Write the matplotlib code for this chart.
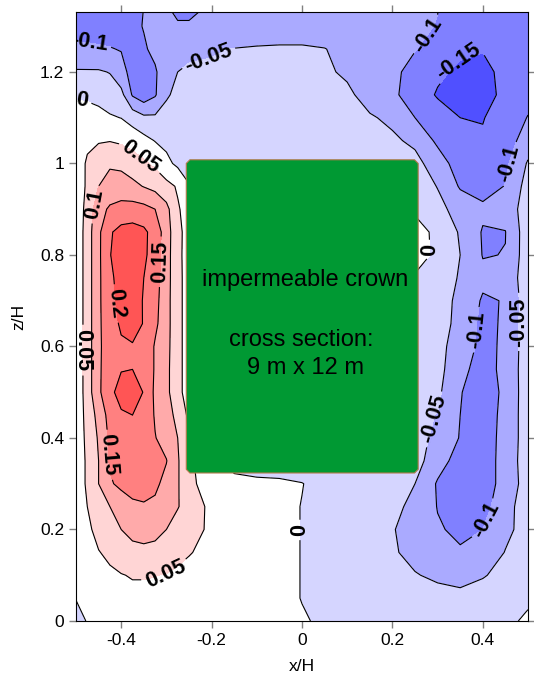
import numpy as np
import matplotlib.pyplot as plt
from matplotlib.patches import Polygon

plt.rcParams['font.family'] = ['Liberation Sans', 'DejaVu Sans']

# grid of the velocity field (x/H columns, z/H rows)
x_pos = [-0.5, -0.475, -0.45, -0.425, -0.4, -0.375, -0.35, -0.325, -0.3, -0.275, -0.25,
         -0.2, -0.15, -0.1, -0.05, 0.0, 0.05, 0.1, 0.15, 0.2, 0.25, 0.3, 0.35, 0.4, 0.45, 0.5]
z_pos = [0.0, 0.05, 0.1, 0.15, 0.2, 0.25, 0.3, 0.35, 0.4, 0.45, 0.5, 0.55, 0.6, 0.65,
         0.7, 0.75, 0.8, 0.85, 0.9, 0.95, 1.0, 1.05, 1.1, 1.15, 1.2, 1.25, 1.3, 1.35]

H8 = [-0.02] * 8   # cells hidden behind the crown

u_field = [
    [-0.02, 0.003, 0.01, 0.02, 0.02, 0.02, 0.02, 0.02, 0.02, 0.02, 0.015, 0.01, 0.008, 0.006, 0.005, 0.003, -0.005, -0.01, -0.015, -0.02, -0.025, -0.03, -0.03, -0.03, -0.02, 0.015],
    [0.002, 0.015, 0.025, 0.03, 0.035, 0.038, 0.038, 0.035, 0.03, 0.03, 0.03, 0.02, 0.015, 0.012, 0.01, -0.001, -0.012, -0.02, -0.028, -0.033, -0.038, -0.038, -0.04, -0.038, -0.035, -0.015],
    [0.003, 0.02, 0.032, 0.042, 0.048, 0.053, 0.053, 0.051, 0.048, 0.04, 0.035, 0.03, 0.02, 0.015, 0.01, -0.001, -0.015, -0.025, -0.035, -0.042, -0.048, -0.056, -0.062, -0.052, -0.042, -0.025],
    [0.005, 0.03, 0.048, 0.06, 0.075, 0.085, 0.088, 0.085, 0.075, 0.065, 0.053, 0.035, 0.025, 0.018, 0.01, -0.001, -0.015, -0.025, -0.038, -0.046, -0.06, -0.075, -0.095, -0.085, -0.048, -0.03],
    [0.008, 0.04, 0.065, 0.085, 0.1, 0.115, 0.12, 0.115, 0.1, 0.085, 0.07, 0.04, 0.025, 0.018, 0.01, -0.001, -0.015, -0.025, -0.038, -0.047, -0.07, -0.095, -0.11, -0.1, -0.062, -0.03],
    [0.01, 0.05, 0.08, 0.1, 0.125, 0.14, 0.145, 0.14, 0.125, 0.102, 0.085, 0.035, 0.02, 0.015, 0.01, -0.001, -0.015, -0.025, -0.035, -0.042, -0.058, -0.102, -0.12, -0.12, -0.065, -0.028],
    [0.01, 0.06, 0.1, 0.145, 0.16, 0.17, 0.17, 0.16, 0.135, 0.105, 0.06, 0.03, 0.012, 0.008, 0.006, 0.001, -0.012, -0.02, -0.03, -0.04, -0.05, -0.105, -0.125, -0.12, -0.085, -0.025],
    [0.01, 0.06, 0.1, 0.155, 0.175, 0.185, 0.185, 0.178, 0.152, 0.105, 0.06, 0.015, -0.015, -0.02, -0.02, -0.02, -0.02, -0.02, -0.02, -0.02, -0.03, -0.08, -0.12, -0.12, -0.085, -0.02],
    [0.01, 0.065, 0.105, 0.16, 0.185, 0.195, 0.19, 0.152, 0.13, 0.1, 0.05, 0.01] + H8 + [-0.035, -0.06, -0.103, -0.115, -0.09, -0.02],
    [0.01, 0.07, 0.115, 0.17, 0.195, 0.2, 0.19, 0.145, 0.122, 0.085, 0.04, 0.01] + H8 + [-0.035, -0.052, -0.1, -0.118, -0.09, -0.02],
    [0.01, 0.075, 0.14, 0.19, 0.215, 0.22, 0.198, 0.14, 0.115, 0.06, 0.035, 0.01] + H8 + [-0.03, -0.04, -0.098, -0.12, -0.092, -0.02],
    [0.01, 0.075, 0.14, 0.185, 0.198, 0.2, 0.19, 0.145, 0.115, 0.06, 0.035, 0.01] + H8 + [-0.028, -0.032, -0.09, -0.115, -0.09, -0.02],
    [0.01, 0.075, 0.14, 0.18, 0.195, 0.197, 0.19, 0.145, 0.118, 0.06, 0.035, 0.01] + H8 + [-0.025, -0.03, -0.08, -0.11, -0.094, -0.02],
    [0.01, 0.075, 0.14, 0.185, 0.205, 0.215, 0.198, 0.16, 0.12, 0.06, 0.035, 0.01] + H8 + [-0.022, -0.024, -0.068, -0.112, -0.094, -0.02],
    [0.01, 0.075, 0.14, 0.19, 0.21, 0.22, 0.197, 0.165, 0.12, 0.06, 0.035, 0.01] + H8 + [-0.02, -0.022, -0.065, -0.105, -0.098, -0.02],
    [0.01, 0.075, 0.14, 0.192, 0.215, 0.225, 0.2, 0.17, 0.122, 0.06, 0.035, 0.01] + H8 + [-0.005, -0.02, -0.055, -0.09, -0.085, -0.02],
    [0.01, 0.075, 0.14, 0.198, 0.225, 0.23, 0.21, 0.175, 0.123, 0.059, 0.035, 0.01] + H8 + [0.02, -0.01, -0.05, -0.102, -0.099, -0.02],
    [0.01, 0.075, 0.14, 0.195, 0.215, 0.22, 0.21, 0.18, 0.125, 0.06, 0.035, 0.01] + H8 + [0.02, -0.012, -0.055, -0.104, -0.101, -0.02],
    [0.01, 0.07, 0.13, 0.158, 0.168, 0.17, 0.165, 0.15, 0.115, 0.055, 0.03, 0.01] + H8 + [-0.008, -0.035, -0.07, -0.09, -0.085, -0.02],
    [0.01, 0.06, 0.1, 0.115, 0.12, 0.112, 0.098, 0.085, 0.065, 0.045, 0.003, -0.01] + H8 + [-0.02, -0.052, -0.105, -0.12, -0.098, -0.03],
    [0.008, 0.06, 0.085, 0.095, 0.09, 0.075, 0.058, 0.04, 0.012, -0.01, -0.02, -0.025, -0.025, -0.025, -0.025, -0.025, -0.027, -0.03, -0.035, -0.04, -0.035, -0.075, -0.125, -0.135, -0.11, -0.045],
    [0.01, 0.035, 0.045, 0.048, 0.042, 0.03, 0.015, -0.002, -0.012, -0.022, -0.028, -0.032, -0.03, -0.028, -0.028, -0.028, -0.03, -0.033, -0.038, -0.042, -0.06, -0.11, -0.135, -0.145, -0.125, -0.075],
    [0.01, 0.012, 0.01, 0.005, -0.001, -0.02, -0.04, -0.042, -0.035, -0.032, -0.032, -0.035, -0.032, -0.03, -0.03, -0.03, -0.033, -0.038, -0.045, -0.06, -0.1, -0.125, -0.15, -0.152, -0.13, -0.098],
    [-0.003, -0.005, -0.01, -0.025, -0.035, -0.105, -0.13, -0.105, -0.055, -0.04, -0.038, -0.04, -0.036, -0.035, -0.034, -0.033, -0.038, -0.04, -0.07, -0.092, -0.12, -0.155, -0.17, -0.165, -0.14, -0.115],
    [-0.045, -0.045, -0.045, -0.052, -0.085, -0.115, -0.12, -0.105, -0.075, -0.05, -0.045, -0.045, -0.042, -0.04, -0.038, -0.036, -0.042, -0.058, -0.075, -0.09, -0.115, -0.14, -0.16, -0.16, -0.14, -0.122],
    [-0.09, -0.092, -0.095, -0.098, -0.102, -0.118, -0.105, -0.09, -0.075, -0.062, -0.058, -0.053, -0.049, -0.047, -0.046, -0.046, -0.049, -0.06, -0.07, -0.085, -0.098, -0.12, -0.14, -0.148, -0.14, -0.128],
    [-0.12, -0.12, -0.12, -0.118, -0.115, -0.11, -0.098, -0.085, -0.082, -0.095, -0.095, -0.085, -0.075, -0.07, -0.068, -0.068, -0.07, -0.075, -0.08, -0.088, -0.095, -0.101, -0.12, -0.13, -0.13, -0.125],
    [-0.125, -0.125, -0.125, -0.122, -0.12, -0.115, -0.1, -0.09, -0.1, -0.115, -0.115, -0.098, -0.085, -0.08, -0.078, -0.078, -0.08, -0.083, -0.088, -0.093, -0.097, -0.099, -0.115, -0.13, -0.13, -0.125],
]

levels = [-0.15, -0.1, -0.05, 0, 0.05, 0.1, 0.15, 0.2]
fill_colors = ['#5050ff', '#8080ff', '#aaaaff', '#d5d5ff', '#ffffff',
               '#ffd5d5', '#ffaaaa', '#ff8080', '#ff5555']

# where the contour labels sit
label_spots = [(-0.469, 1.277), (-0.210, 1.244), (-0.487, 1.139), (-0.358, 1.014),
               (-0.454, 0.909), (-0.310, 0.785), (-0.403, 0.695), (-0.491, 0.592),
               (-0.425, 0.363), (-0.303, 0.107), (0.0, 0.199), (0.283, 1.277),
               (0.343, 1.226), (0.449, 1.001), (0.283, 0.811), (0.389, 0.636),
               (0.467, 0.654), (0.299, 0.439), (0.405, 0.221)]

x_ticks = [-0.4, -0.2, 0, 0.2, 0.4]
x_ticklabels = ['-0.4', '-0.2', '0', '0.2', '0.4']
z_ticks = [0, 0.2, 0.4, 0.6, 0.8, 1.0, 1.2]
z_ticklabels = ['0', '0.2', '0.4', '0.6', '0.8', '1', '1.2']

# crown block
crown_x = (-0.256, 0.257)
crown_z = (0.3235, 1.008)
cut = 0.008

fig = plt.figure(figsize=(5.34, 6.81), dpi=100)
ax = fig.add_axes([76/534, 60/681, 452/534, 609/681])

X, Z = np.meshgrid(x_pos, z_pos)
V = np.array(u_field)
ax.contourf(X, Z, V, levels=[-1] + levels + [1], colors=fill_colors, zorder=1)
cs = ax.contour(X, Z, V, levels=levels, colors='k', linewidths=0.8,
                linestyles='solid', zorder=2)
lbls = ax.clabel(cs, manual=label_spots, fmt=lambda v: f'{v:g}', fontsize=15.5,
                 inline=True, inline_spacing=4)
for t in lbls:
    t.set_fontweight('bold')
    t.set_zorder(5)

x0, x1 = crown_x
z0, z1 = crown_z
pts = [(x0 + cut, z0), (x1 - cut, z0), (x1, z0 + cut), (x1, z1 - cut),
       (x1 - cut, z1), (x0 + cut, z1), (x0, z1 - cut), (x0, z0 + cut)]
ax.add_patch(Polygon(pts, closed=True, facecolor='#009933', edgecolor='#b07a4a',
                     linewidth=0.8, zorder=3))
ax.text(0.008, 0.745, 'impermeable crown', ha='center', va='center', fontsize=17, zorder=4)
ax.text(-0.002, 0.615, 'cross section:', ha='center', va='center', fontsize=17, zorder=4)
ax.text(0.007, 0.553, '9 m x 12 m', ha='center', va='center', fontsize=17, zorder=4)

ax.set_xlim(-0.5, 0.5)
ax.set_ylim(0, 1.331)
ax.set_xticks(x_ticks)
ax.set_xticklabels(x_ticklabels)
ax.set_yticks(z_ticks)
ax.set_yticklabels(z_ticklabels)
ax.tick_params(direction='out', length=5, width=1, color='gray', top=True, right=True,
               labelsize=12.5)
ax.set_xlabel('x/H', fontsize=12.5, labelpad=8)
ax.set_ylabel('z/H', fontsize=12.5, labelpad=10)

fig.savefig('out.png', dpi=100)
